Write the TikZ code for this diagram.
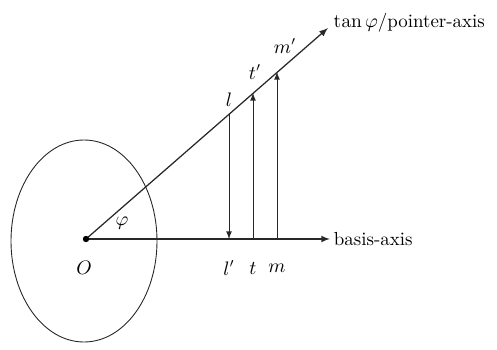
\documentclass[tikz,border=0pt]{standalone}
\usepackage{amsmath,amssymb}
\usepackage{tikz}
\usetikzlibrary{arrows, positioning, calc}
\definecolor{axisgray}{RGB}{40, 40, 40}

\begin{document}
\begin{tikzpicture}[
    x=0.0197cm, y=-0.0197cm,
    axis/.style={draw=axisgray, line width=0.7pt, -latex},
    proj/.style={draw=axisgray, line width=0.5pt, -latex},
    lab/.style={font=\fontsize{10.6pt}{13pt}\selectfont, inner sep=1pt}
]
    \useasboundingbox (0,0) rectangle (497,349);
    % Points
    \coordinate (O) at (86,239);
    \coordinate (basisEnd) at (330,239);
    \coordinate (pointerEnd) at (328,28);
    \coordinate (l) at (229,114);
    \coordinate (lp) at (229,239);
    \coordinate (tp) at (253,93);
    \coordinate (t) at (253,239);
    \coordinate (mp) at (277,72);
    \coordinate (m) at (277,239);

    % Circle and axes
    \draw[axisgray, line width=0.5pt] (84,241) ellipse (73 and 101);
    \draw[axis] (O) -- (basisEnd);
    \draw[axis] (O) -- (pointerEnd);
    \fill[black] (O) circle (3.2);

    % Projections
    \draw[proj] (l) -- (lp);
    \draw[proj] (t) -- (tp);
    \draw[proj] (m) -- (mp);

    % Labels
    \node[lab, right=1pt of basisEnd] (basisLab) {basis-axis};
    \node[lab, right=2pt of pointerEnd, yshift=3pt] (pointerLab) {$\tan\varphi$/pointer-axis};
    \node[lab] (Olab) at (84,268) {$O$};
    \node[lab] (philab) at (122,223) {$\varphi$};
    \node[lab] (llab) at (229,100) {$l$};
    \node[lab] (tplab) at (255,72) {$t'$};
    \node[lab] (mplab) at (285,46) {$m'$};
    \node[lab] (lplab) at (229,268) {$l'$};
    \node[lab] (tlab) at (253,268) {$t$};
    \node[lab] (mlab) at (277,268) {$m$};
\end{tikzpicture}
\end{document}
